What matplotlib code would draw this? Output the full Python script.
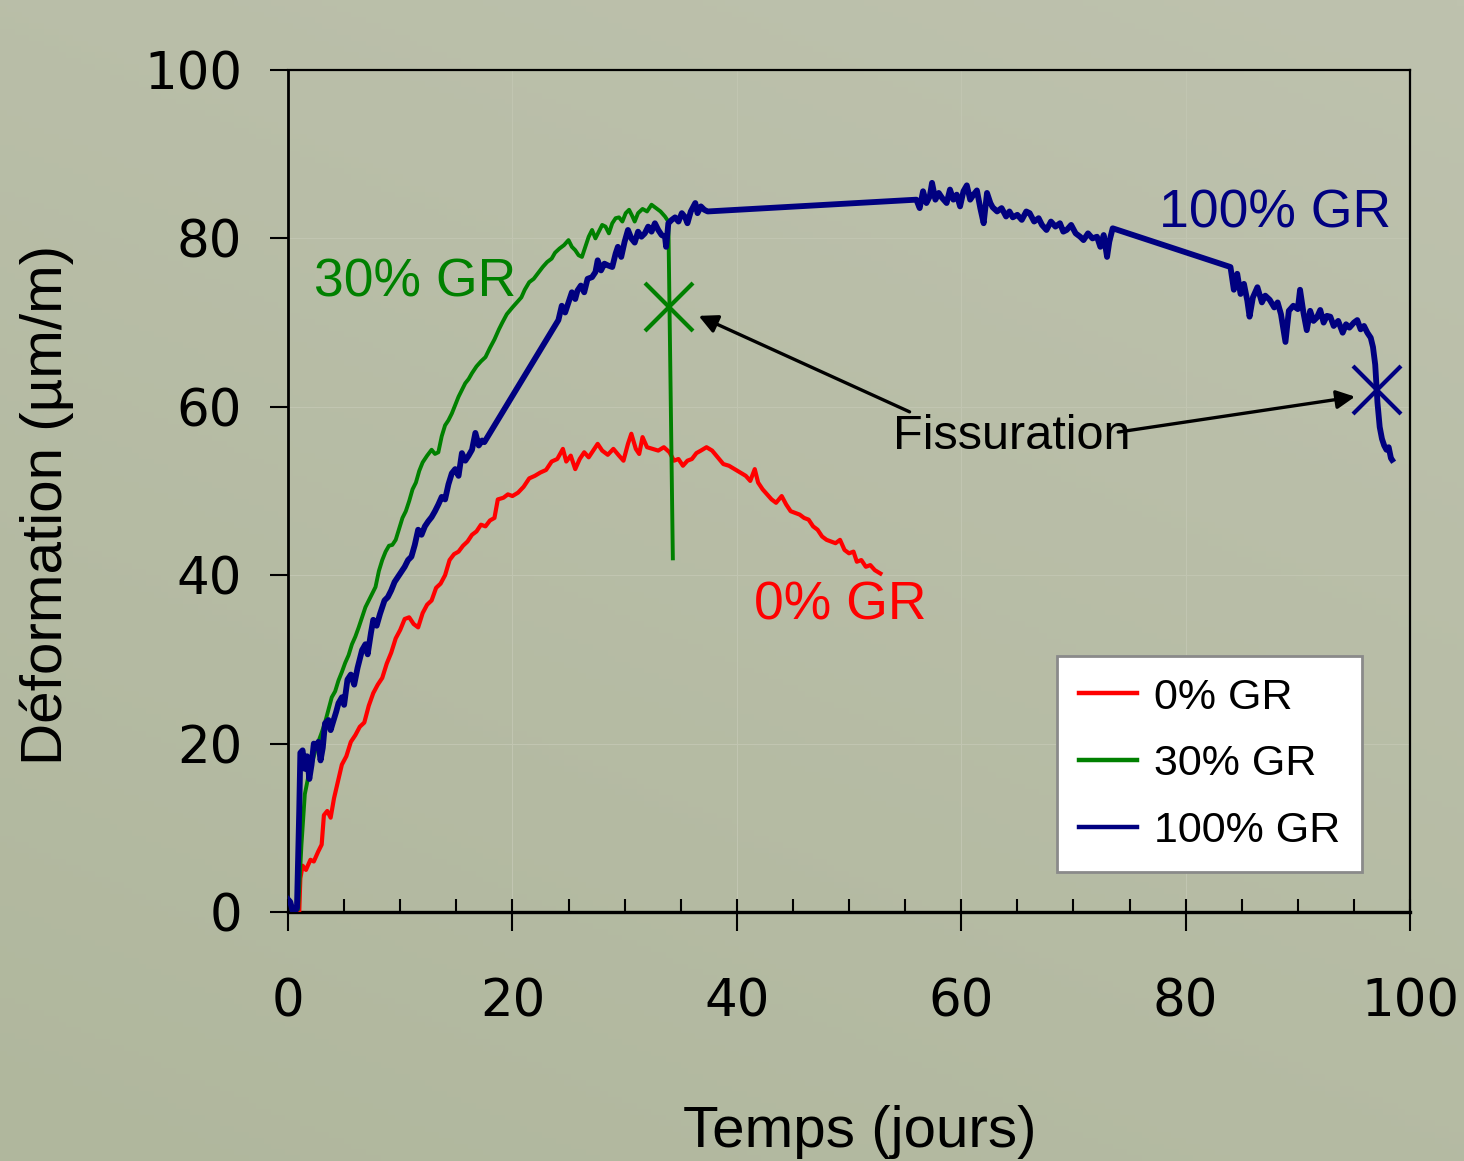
import numpy as np
import matplotlib
matplotlib.use("Agg")
import matplotlib.pyplot as plt
from matplotlib.ticker import MultipleLocator

# ---------------- data ----------------
red_x = [0.8, 1.0, 1.1, 1.3, 1.6, 2.0, 2.3, 2.7, 3.0, 3.2, 3.5, 3.8, 4.1, 4.5, 4.8, 5.2, 5.6, 6.0, 6.4, 6.8,
         7.2, 7.6, 8.0, 8.4, 8.8, 9.2, 9.6, 10.0, 10.4, 10.8, 11.2, 11.6, 12.0, 12.4, 12.8, 13.2, 13.6, 14.0,
         14.4, 14.8, 15.2, 15.6, 16.0, 16.4, 16.8, 17.2, 17.6, 18.0, 18.4, 18.7, 19.2, 19.6, 20.0, 20.5, 21.0,
         21.5, 22.0, 22.5, 23.0, 23.5, 24.0, 24.5, 24.8, 25.2, 25.6, 26.0, 26.4, 26.8, 27.2, 27.6, 28.0, 28.5,
         29.0, 29.5, 29.9, 30.3, 30.6, 31.0, 31.3, 31.6, 32.0, 32.5, 33.0, 33.5, 34.0, 34.4, 34.8, 35.2, 35.6,
         36.0, 36.4, 36.8, 37.3, 37.8, 38.3, 38.8, 39.3, 39.8, 40.3, 40.8, 41.2, 41.6, 41.9, 42.3, 42.7, 43.1,
         43.5, 44.0, 44.4, 44.8, 45.2, 45.6, 46.0, 46.4, 46.8, 47.2, 47.6, 48.0, 48.4, 48.8, 49.2, 49.6, 50.0,
         50.4, 50.7, 51.1, 51.5, 51.9, 52.3, 52.8]
red_y = [0.0, 0.0, 4.0, 5.5, 5.0, 6.2, 6.0, 7.2, 8.0, 11.5, 12.0, 11.2, 13.5, 15.8, 17.5, 18.5, 20.2, 21.0, 22.0, 22.5,
         24.5, 26.0, 27.0, 27.8, 29.5, 30.8, 32.5, 33.5, 34.8, 35.0, 34.2, 33.8, 35.5, 36.5, 37.0, 38.5, 39.0, 40.0,
         41.8, 42.5, 42.8, 43.5, 44.0, 44.8, 45.2, 46.0, 45.8, 46.5, 46.8, 49.0, 49.2, 49.6, 49.4, 49.8, 50.5,
         51.5, 51.8, 52.2, 52.5, 53.5, 53.8, 55.0, 53.5, 54.2, 52.6, 53.8, 54.6, 54.0, 54.8, 55.6, 54.8, 54.3,
         55.0, 54.2, 53.6, 55.6, 56.8, 55.0, 54.4, 56.4, 55.2, 55.0, 54.8, 55.2, 54.6, 53.6, 53.8, 53.0, 53.6,
         53.8, 54.5, 54.8, 55.2, 54.8, 54.0, 53.2, 53.0, 52.6, 52.2, 51.8, 51.2, 52.6, 51.0, 50.2, 49.6, 49.0,
         48.6, 49.4, 48.4, 47.6, 47.4, 47.2, 46.8, 46.6, 45.8, 45.4, 44.6, 44.2, 44.0, 43.8, 44.2, 43.0, 42.6,
         42.8, 41.6, 41.8, 41.0, 41.2, 40.6, 40.2]

green_x = [0.3, 0.9, 1.2, 1.5, 1.8, 2.1, 2.4, 2.7, 3.0, 3.3, 3.6, 3.9, 4.2, 4.5, 4.8, 5.1, 5.4, 5.7, 6.0, 6.3,
           6.6, 6.9, 7.2, 7.5, 7.8, 8.1, 8.4, 8.7, 9.0, 9.3, 9.6, 9.9, 10.2, 10.5, 10.8, 11.1, 11.4, 11.7, 12.0,
           12.4, 12.8, 13.1, 13.4, 13.7, 14.0, 14.3, 14.6, 14.9, 15.2, 15.5, 15.8, 16.1, 16.4, 16.8, 17.2, 17.6,
           18.0, 18.4, 18.8, 19.1, 19.5, 20.0, 20.4, 20.8, 21.1, 21.5, 21.9, 22.3, 22.7, 23.1, 23.5, 23.8, 24.2,
           24.6, 25.0, 25.3, 25.6, 25.9, 26.2, 26.5, 26.8, 27.1, 27.4, 27.7, 28.0, 28.3, 28.6, 28.9, 29.2, 29.5,
           29.8, 30.1, 30.4, 30.7, 30.9, 31.2, 31.6, 32.0, 32.4, 32.8, 33.2, 33.6, 33.9, 34.3]
green_y = [0.5, 0.3, 8.0, 14.0, 16.0, 17.5, 19.0, 20.2, 21.3, 22.5, 24.0, 25.5, 26.2, 27.5, 28.5, 29.6, 30.5, 31.8, 32.7, 33.8,
           35.0, 36.2, 37.0, 37.8, 38.6, 40.5, 41.8, 42.8, 43.5, 43.6, 44.2, 45.5, 46.8, 47.6, 48.8, 50.2, 51.0, 52.4, 53.4,
           54.2, 54.9, 54.4, 54.6, 56.5, 57.8, 58.4, 59.2, 60.2, 61.2, 62.0, 62.8, 63.3, 64.0, 64.8, 65.4, 65.9,
           67.0, 68.0, 69.2, 70.0, 71.0, 71.8, 72.4, 73.0, 73.9, 74.8, 75.2, 75.9, 76.6, 77.2, 77.6, 78.3, 78.8,
           79.2, 79.8, 79.0, 78.6, 78.0, 77.8, 79.0, 80.2, 81.0, 80.0, 80.8, 81.6, 81.4, 80.6, 81.8, 82.4, 82.5,
           82.0, 83.0, 83.4, 82.6, 82.0, 83.0, 83.5, 83.2, 84.0, 83.6, 83.2, 82.6, 82.0, 42.0]

blue_x = [0.0, 0.2, 0.4, 0.6, 0.8, 1.0, 1.1, 1.3, 1.5, 1.7, 1.9, 2.1, 2.3, 2.5, 2.7, 2.9, 3.1, 3.3, 3.6, 3.8,
          4.0, 4.3, 4.5, 4.8, 5.0, 5.3, 5.6, 5.9, 6.2, 6.6, 6.9, 7.1, 7.4, 7.6, 7.9, 8.2, 8.6, 8.9, 9.2, 9.5,
          9.8, 10.1, 10.4, 10.7, 11.0, 11.3, 11.6, 11.9, 12.2, 12.5, 12.8, 13.1, 13.4, 13.7, 14.0, 14.3, 14.6,
          14.9, 15.2, 15.5, 15.8, 16.1, 16.4, 16.7, 17.0, 17.3, 17.5,
          24.1, 24.4, 24.7, 25.0, 25.3, 25.6, 25.8, 26.1, 26.4, 26.7, 27.1, 27.4, 27.6, 27.9, 28.2, 28.5, 28.9,
          29.2, 29.4, 29.7, 30.0, 30.3, 30.6, 30.9, 31.2, 31.5, 31.8, 32.1, 32.4, 32.7, 33.0, 33.3, 33.6, 33.7,
          33.9, 34.2, 34.5, 34.8, 35.1, 35.4, 35.6, 35.9, 36.3, 36.5, 36.8, 37.1, 37.4,
          56.0, 56.3, 56.6, 56.9, 57.2, 57.4, 57.7, 58.0, 58.3, 58.7, 59.0, 59.3, 59.6, 59.9, 60.2, 60.5, 60.8,
          61.1, 61.4, 61.7, 62.0, 62.3, 62.6, 62.8, 63.2, 63.6, 64.0, 64.3, 64.6, 65.0, 65.4, 65.8, 66.1, 66.5,
          66.9, 67.2, 67.6, 68.0, 68.4, 68.8, 69.1, 69.4, 69.8, 70.2, 70.6, 70.9, 71.3, 71.7, 72.1, 72.4, 72.7,
          73.0, 73.2, 73.5,
          84.0, 84.3, 84.6, 84.9, 85.2, 85.5, 85.7, 86.0, 86.4, 86.8, 87.1, 87.5, 87.9, 88.2, 88.5, 88.9, 89.2,
          89.6, 90.0, 90.2, 90.5, 90.8, 91.1, 91.4, 91.7, 92.0, 92.3, 92.6, 92.9, 93.2, 93.6, 94.0, 94.3, 94.6,
          95.0, 95.3, 95.6, 95.9, 96.2, 96.5, 96.7, 96.9, 97.0, 97.1, 97.3, 97.5, 97.7, 97.9, 98.1, 98.3, 98.4]
blue_y = [1.5, 1.2, 0.2, 0.0, 0.5, 12.0, 18.9, 19.2, 17.0, 18.5, 15.8, 17.5, 20.0, 19.5, 20.2, 18.0, 19.5, 22.4, 22.8, 21.6,
          22.5, 23.8, 24.8, 25.5, 24.6, 27.6, 28.2, 27.0, 29.0, 31.1, 31.8, 30.6, 33.2, 34.7, 34.0, 35.4, 37.0, 37.4, 38.2, 39.2,
          39.8, 40.4, 41.0, 41.8, 42.2, 43.6, 45.4, 44.8, 45.8, 46.4, 46.9, 47.6, 48.4, 49.3, 49.0, 50.8, 52.1,
          52.6, 51.8, 54.5, 53.6, 54.2, 54.9, 56.9, 55.4, 56.0, 55.8,
          70.3, 72.0, 71.2, 72.4, 73.6, 72.8, 73.8, 74.4, 73.6, 75.2, 75.4, 76.0, 77.4, 76.2, 77.0, 76.8, 76.6,
          78.2, 79.0, 77.8, 79.6, 81.0, 80.0, 79.5, 80.8, 80.2, 80.6, 81.4, 80.8, 81.8, 81.0, 80.4, 80.2, 79.0,
          81.8, 82.2, 82.5, 82.0, 83.0, 82.5, 81.8, 83.2, 84.2, 83.0, 83.8, 83.4, 83.2,
          84.6, 83.6, 85.6, 84.2, 85.0, 86.6, 84.6, 85.4, 84.8, 84.2, 85.8, 84.6, 85.2, 83.8, 85.6, 86.3, 84.6,
          85.2, 85.7, 83.6, 81.8, 85.4, 84.2, 83.7, 83.2, 83.6, 82.6, 83.2, 82.5, 82.8, 82.2, 83.2, 83.0, 82.0,
          82.4, 81.6, 81.0, 82.0, 81.4, 81.8, 80.8, 81.0, 81.6, 80.6, 80.2, 79.8, 80.6, 80.0, 80.2, 79.0, 80.4,
          77.8, 79.6, 81.2,
          76.6, 73.9, 75.8, 73.4, 74.6, 72.6, 70.7, 73.0, 74.2, 72.4, 73.2, 72.7, 71.8, 72.4, 71.0, 67.7, 71.4,
          72.0, 71.6, 73.9, 71.2, 69.1, 71.4, 70.2, 70.6, 71.5, 70.0, 70.8, 70.7, 69.6, 70.2, 68.8, 69.8, 69.4,
          70.0, 70.3, 69.2, 69.6, 68.8, 68.2, 67.1, 65.0, 62.8, 60.5, 57.6, 56.2, 55.4, 54.9, 55.2, 53.9, 53.7]

series_labels = ["0% GR", "30% GR", "100% GR"]
crack_x = [34.0, 97.1]
crack_y = [71.9, 62.0]
x_ticks = [0, 20, 40, 60, 80, 100]
y_ticks = [0, 20, 40, 60, 80, 100]

RED, GREEN, BLUE = "#ff0000", "#008000", "#000080"

# ---------------- figure ----------------
W, H = 1464, 1161
fig = plt.figure(figsize=(W / 100, H / 100), dpi=100)

# gradient background
bg = fig.add_axes([0, 0, 1, 1], zorder=-10)
tt = 0.65 * (1 - np.linspace(0, 1, 200))[:, None] + 0.35 * np.linspace(0, 1, 200)[None, :]
c_dark = np.array([176, 183, 157]) / 255.0
c_light = np.array([190, 194, 174]) / 255.0
img = c_dark[None, None, :] + (c_light - c_dark)[None, None, :] * tt[:, :, None]
bg.imshow(img, aspect="auto", extent=[0, 1, 0, 1], origin="upper")
bg.set_axis_off()

ax = fig.add_axes([288 / W, 1 - 912 / H, (1410 - 288) / W, (912 - 70) / H])
ax.patch.set_alpha(0)

ax.set_xlim(0, 100)
ax.set_ylim(0, 100)

ax.plot(red_x, red_y, color=RED, lw=3.0, zorder=3)
ax.plot(green_x, green_y, color=GREEN, lw=2.8, zorder=3)
ax.plot(blue_x, blue_y, color=BLUE, lw=4.2, zorder=4)

ax.plot(crack_x[0], crack_y[0], marker="x", ms=35, mew=3, color=GREEN, zorder=5)
ax.plot(crack_x[1], crack_y[1], marker="x", ms=35, mew=3, color=BLUE, zorder=5)

# legend proxies
h1, = ax.plot([], [], color=RED, lw=3.2)
h2, = ax.plot([], [], color=GREEN, lw=3.2)
h3, = ax.plot([], [], color=BLUE, lw=3.2)

tfont = "Liberation Sans"
ax.text(11.3, 74.8, "30% GR", color=GREEN, fontsize=38.5, family=tfont, ha="center", va="center")
ax.text(88.0, 83.0, "100% GR", color=BLUE, fontsize=38.5, family=tfont, ha="center", va="center")
ax.text(49.2, 36.4, "0% GR", color=RED, fontsize=38.5, family=tfont, ha="center", va="center")
ax.text(64.5, 56.5, "Fissuration", color="black", fontsize=35, family=tfont, ha="center", va="center", zorder=6)

ax.annotate("", xy=(36.6, 70.8), xytext=(55.4, 59.4),
            arrowprops=dict(arrowstyle="-|>", color="black", lw=2.4, mutation_scale=28, shrinkA=0, shrinkB=0))
ax.annotate("", xy=(95.1, 61.2), xytext=(74.0, 57.0),
            arrowprops=dict(arrowstyle="-|>", color="black", lw=2.4, mutation_scale=28, shrinkA=0, shrinkB=0))

# ticks
ax.set_xticks(x_ticks)
ax.set_yticks(y_ticks)
ax.xaxis.set_minor_locator(MultipleLocator(5))
ax.xaxis.remove_overlapping_locs = False
ax.tick_params(axis="x", which="major", direction="out", length=14, width=1.5, pad=33,
               labelsize=37, top=False)
ax.tick_params(axis="x", which="minor", direction="in", length=9.5, width=1.5, top=False)
ax.tick_params(axis="y", which="major", direction="out", length=13, width=1.5, pad=20,
               labelsize=37, right=False)
for lab in ax.get_xticklabels() + ax.get_yticklabels():
    lab.set_family("DejaVu Sans")

ax.grid(True, which="major", color="#c1c5b1", lw=0.8, zorder=0)
ax.set_axisbelow(True)

for side, lw in (("bottom", 2.4), ("left", 2.0), ("top", 1.6), ("right", 1.6)):
    ax.spines[side].set_linewidth(lw)
    ax.spines[side].set_color("black")

ax.set_xlabel("Temps (jours)", fontsize=42, family=tfont)
ax.xaxis.set_label_coords(0.51, -0.229)
ax.set_ylabel("Déformation (µm/m)", fontsize=42, family=tfont)
ax.yaxis.label.set_va("center")
ax.yaxis.set_label_coords(-0.215, 0.483)

leg = ax.legend([h1, h2, h3], series_labels, loc="upper left",
                bbox_to_anchor=(1057 / W, 1 - 656 / H), bbox_transform=fig.transFigure,
                prop={"family": tfont, "size": 31}, handlelength=1.35, handletextpad=0.4,
                labelspacing=0.62, borderpad=0.5, borderaxespad=0, fancybox=False,
                framealpha=1, edgecolor="#8a8a8a", facecolor="white")
leg.get_frame().set_linewidth(2)

fig.savefig("out.png", dpi=100)
